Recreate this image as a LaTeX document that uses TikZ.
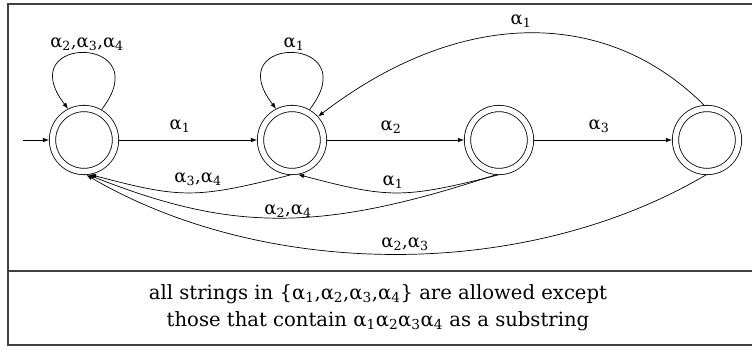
\documentclass[tikz,border=0pt]{standalone}
\usepackage{fontspec}
\setmainfont{DejaVu Serif}
\usetikzlibrary{arrows.meta}
\newcommand\al[1]{α\textsubscript{#1}}
\begin{document}
\begin{tikzpicture}[x=1pt,y=-1pt,
  state/.style={circle,draw,line width=0.8pt,double,double distance=5.5pt,minimum size=63pt,inner sep=0pt,outer sep=3.55pt},
  edge/.style={line width=0.7pt,-{Latex[length=6pt,width=4.5pt]}},
  lbl/.style={font=\fontsize{18}{22}\selectfont,inner sep=0pt},
  txt/.style={font=\fontsize{19.6}{27}\selectfont,align=center,inner sep=0pt},
  frame/.style={line width=1.5pt,black!75}]
\useasboundingbox (0,0) rectangle (752,349);
% frame
\draw[frame] (752,4) -- (8,4) -- (8,345) -- (752,345);
\draw[frame] (8,271) -- (752,271);
% states
\node[state] (s1) at (84,140) {};
\node[state] (s2) at (292,140) {};
\node[state] (s3) at (499,140) {};
\node[state] (s4) at (707,140) {};
\coordinate (init) at (23,140);
% forward edges
\draw[edge] (init) -- (s1);
\draw[edge] (s1) -- (s2);
\draw[edge] (s2) -- (s3);
\draw[edge] (s3) -- (s4);
% loops
\draw[edge] (s1.60) .. controls +(58,-75) and +(-58,-75) .. (s1.117);
\draw[edge] (s2.60) .. controls +(58,-75) and +(-58,-75) .. (s2.117);
% top arc
\draw[edge] (s4.95) .. controls +(-98,-98) and +(142,-109) .. (s2.42);
% back edges
\draw[edge] (s2.-93) .. controls +(-95,24) and +(91,24) .. (s1.-80);
\draw[edge] (s3.-92) .. controls +(-95,24) and +(91,24) .. (s2.-80);
\draw[edge] (s3.-96) .. controls +(-178,59) and +(141,56) .. (s1.-83);
\draw[edge] (s4.-92) .. controls +(-184,108) and +(176,103) .. (s1.-86);
% labels
\node[lbl] (l11) at (87,44) {\al{2},\al{3},\al{4}};
\node[lbl] (l22) at (294,44) {\al{1}};
\node[lbl] (l42) at (521,21) {\al{1}};
\node[lbl] (l12) at (180,126) {\al{1}};
\node[lbl] (l23) at (391,127) {\al{2}};
\node[lbl] (l34) at (599,126) {\al{3}};
\node[lbl] (l21) at (198,179) {\al{3},\al{4}};
\node[lbl] (l32) at (393,182) {\al{1}};
\node[lbl] (l31) at (288,211) {\al{2},\al{4}};
\node[lbl] (l41) at (405,244) {\al{2},\al{3}};
% caption
\node[txt] (cap) at (378,308) {all strings in \{\al{1},\al{2},\al{3},\al{4}\} are allowed except\\those that contain \al{1}\al{2}\al{3}\al{4} as a substring};
\end{tikzpicture}
\end{document}
